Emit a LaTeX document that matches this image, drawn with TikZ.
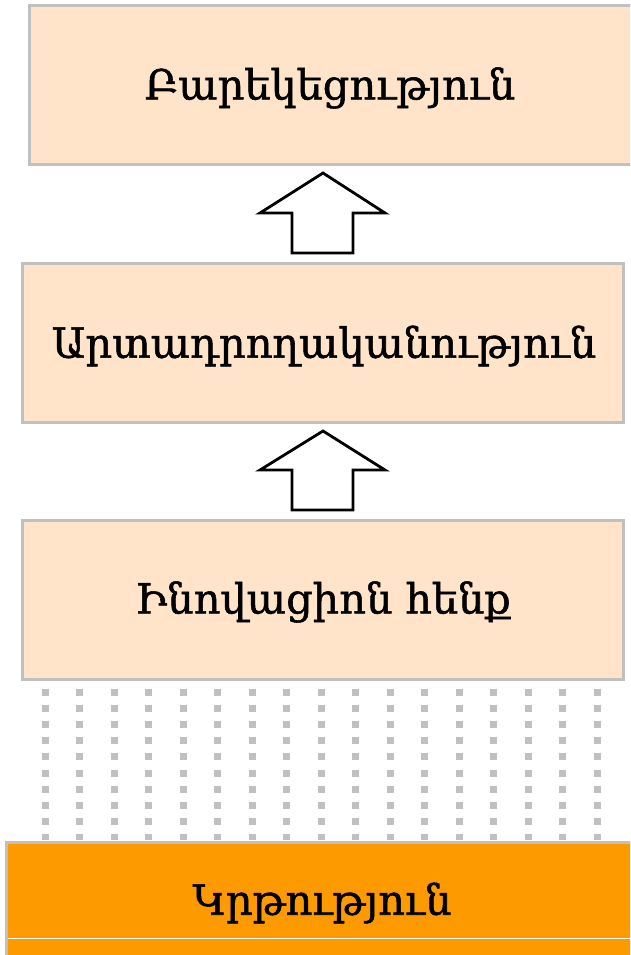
\documentclass[tikz,border=0pt]{standalone}
\usepackage{fontspec}
\setmainfont{DejaVu Serif}
\newfontfamily\armfont[FakeBold=1.3]{DejaVu Serif}
\usetikzlibrary{calc}
\definecolor{boxfill}{HTML}{FFE4CA}
\definecolor{boxline}{HTML}{C0C0C0}
\definecolor{orangefill}{HTML}{FC9A00}
\tikzset{
  lvl/.style={draw=boxline, line width=3pt, fill=boxfill, inner sep=0pt},
  lbl/.style={font=\armfont\fontsize{41.5}{48}\selectfont, inner sep=0pt},
  uparrow/.style={draw=black, line width=2.8pt, fill=white, line join=miter},
  dotcol/.style={draw=boxline, line width=7pt, dash pattern=on 7pt off 9.2pt}
}
\begin{document}
\begin{tikzpicture}[x=1pt,y=-1pt]
\useasboundingbox (0,0) rectangle (630,955);
\clip (0,0) rectangle (630,955);
% boxes
\draw[lvl] (29.5,5.5) rectangle (645,164);
\node[lbl] (t1) at (330,88) {Բարեկեցություն};
\draw[lvl] (22.5,263) rectangle (623,422);
\node[lbl] (t2) at (324,346) {Արտադրողականություն};
\draw[lvl] (22.5,520) rectangle (623,679);
\node[lbl] (t3) at (323,602) {Ինովացիոն հենք};
% dots
\foreach \i in {0,...,16} {
  \draw[dotcol] ({45+\i*34.5},688.5) -- ({45+\i*34.5},840);
}
% bottom box
\draw[draw=boxline, line width=3pt, fill=orangefill] (6.5,842) rectangle (645,970);
\draw[white, line width=1.2pt] (8,938.5) -- (640,938.5);
\node[lbl] (t4) at (322,903) {Կրթություն};
% arrows
\draw[uparrow] (323,173) -- (385,213) -- (353,213) -- (353,253) -- (292,253) -- (292,213) -- (260,213) -- cycle;
\draw[uparrow] (323,431) -- (385,470) -- (353,470) -- (353,510) -- (292,510) -- (292,470) -- (260,470) -- cycle;
\end{tikzpicture}
\end{document}
